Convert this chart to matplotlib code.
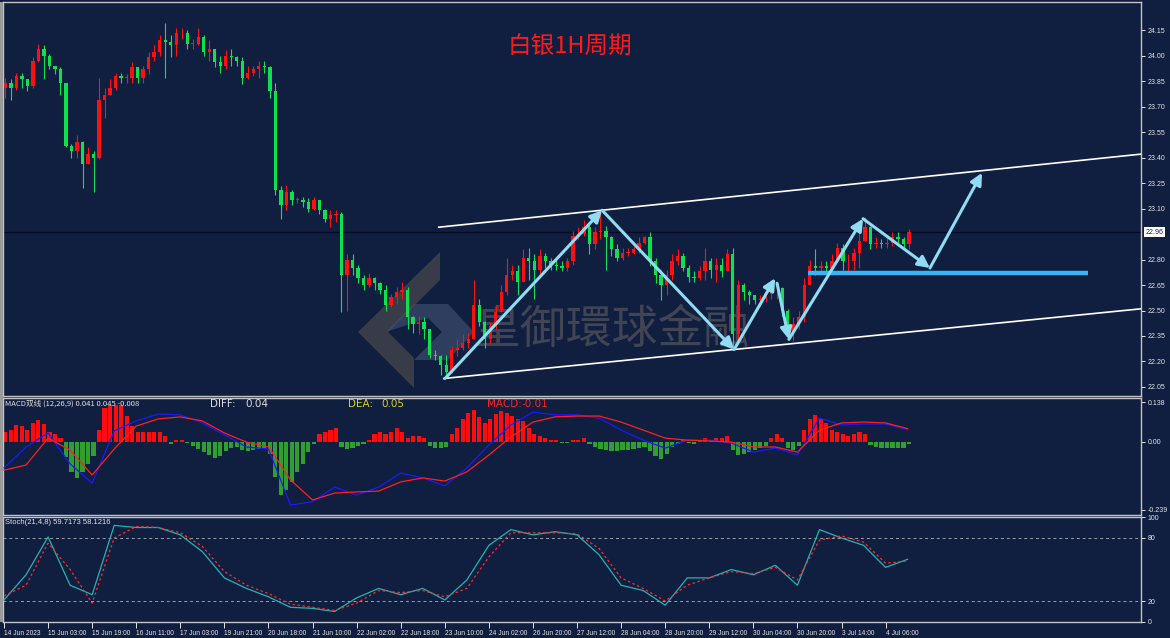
import numpy as np
import matplotlib
matplotlib.use("Agg")
import matplotlib.pyplot as plt
import matplotlib.transforms as mtransforms
from matplotlib.patches import Polygon

# ---------------- data (2-hour candles, silver 1H chart) ----------------
first_open = 23.81
closes = [23.84, 23.81, 23.88, 23.86, 23.82, 23.97, 24.04, 24.00, 23.94, 23.92,
          23.84, 23.47, 23.44, 23.49, 23.36, 23.42, 23.40, 23.74, 23.77, 23.81,
          23.88, 23.87, 23.87, 23.93, 23.87, 23.92, 23.99, 24.02, 24.09, 24.08,
          24.06, 24.13, 24.13, 24.07, 24.07, 24.11, 24.02, 24.04, 23.96, 23.94,
          24.00, 23.99, 23.97, 23.87, 23.90, 23.92, 23.94, 23.93, 23.79, 23.21,
          23.12, 23.20, 23.15, 23.15, 23.14, 23.10, 23.15, 23.09, 23.04, 23.06,
          23.07, 22.71, 22.80, 22.75, 22.69, 22.65, 22.69, 22.66, 22.62, 22.53,
          22.58, 22.61, 22.62, 22.46, 22.42, 22.43, 22.39, 22.24, 22.23, 22.18,
          22.14, 22.27, 22.28, 22.31, 22.33, 22.53, 22.43, 22.33, 22.41, 22.49,
          22.61, 22.71, 22.73, 22.67, 22.81, 22.79, 22.74, 22.82, 22.79, 22.77,
          22.76, 22.75, 22.79, 22.94, 22.95, 22.99, 22.89, 22.96, 22.97, 22.93,
          22.86, 22.81, 22.84, 22.84, 22.86, 22.90, 22.93, 22.79, 22.71, 22.65,
          22.71, 22.79, 22.82, 22.75, 22.70, 22.69, 22.73, 22.79, 22.74, 22.77,
          22.73, 22.83, 22.36, 22.65, 22.61, 22.59, 22.56, 22.57, 22.60, 22.63,
          22.63, 22.50, 22.37, 22.42, 22.46, 22.65, 22.76, 22.75, 22.76, 22.75,
          22.79, 22.87, 22.79, 22.79, 22.84, 22.91, 22.99, 22.89, 22.90, 22.89,
          22.90, 22.93, 22.92, 22.89, 22.96]
highs = [23.87, 23.86, 23.90, 23.90, 23.86, 23.99, 24.07, 24.06, 24.01, 23.94,
         23.93, 23.82, 23.48, 23.53, 23.50, 23.46, 23.44, 23.87, 23.81, 23.86,
         23.90, 23.90, 23.89, 23.96, 23.93, 23.94, 24.02, 24.06, 24.12, 24.19,
         24.12, 24.16, 24.16, 24.15, 24.10, 24.16, 24.12, 24.09, 24.04, 24.00,
         24.03, 24.04, 24.00, 23.99, 23.94, 23.94, 23.97, 23.97, 23.94, 23.84,
         23.23, 23.24, 23.21, 23.17, 23.17, 23.16, 23.17, 23.15, 23.10, 23.09,
         23.09, 23.08, 22.83, 22.83, 22.77, 22.71, 22.72, 22.70, 22.67, 22.65,
         22.60, 22.64, 22.67, 22.64, 22.47, 22.47, 22.46, 22.36, 22.27, 22.24,
         22.24, 22.29, 22.33, 22.36, 22.37, 22.68, 22.57, 22.44, 22.43, 22.53,
         22.65, 22.81, 22.77, 22.77, 22.86, 22.87, 22.83, 22.86, 22.84, 22.81,
         22.80, 22.79, 22.81, 22.97, 22.99, 23.03, 23.02, 22.99, 23.09, 23.00,
         22.94, 22.89, 22.87, 22.87, 22.88, 22.93, 22.94, 22.96, 22.81, 22.74,
         22.74, 22.83, 22.86, 22.84, 22.77, 22.73, 22.76, 22.87, 22.81, 22.81,
         22.81, 22.86, 22.87, 22.68, 22.66, 22.62, 22.59, 22.59, 22.62, 22.65,
         22.66, 22.64, 22.51, 22.46, 22.50, 22.69, 22.80, 22.86, 22.79, 22.79,
         22.83, 22.90, 22.89, 22.83, 22.87, 22.97, 23.05, 23.00, 22.93, 22.92,
         22.93, 22.96, 22.96, 22.93, 22.98]
lows = [23.75, 23.74, 23.80, 23.81, 23.79, 23.81, 23.96, 23.86, 23.92, 23.89,
        23.77, 23.46, 23.40, 23.40, 23.22, 23.36, 23.20, 23.39, 23.63, 23.77,
        23.80, 23.84, 23.84, 23.84, 23.84, 23.84, 23.89, 23.97, 24.00, 23.87,
        23.99, 24.00, 24.10, 24.04, 24.04, 24.06, 24.00, 23.97, 23.93, 23.90,
        23.92, 23.94, 23.94, 23.83, 23.86, 23.88, 23.87, 23.90, 23.75, 23.18,
        23.04, 23.09, 23.12, 23.13, 23.11, 23.08, 23.09, 23.07, 23.02, 22.99,
        23.02, 22.49, 22.50, 22.71, 22.66, 22.62, 22.64, 22.62, 22.60, 22.50,
        22.52, 22.54, 22.57, 22.39, 22.37, 22.36, 22.33, 22.22, 22.21, 22.12,
        22.10, 22.13, 22.23, 22.27, 22.28, 22.36, 22.41, 22.28, 22.30, 22.39,
        22.50, 22.59, 22.68, 22.59, 22.71, 22.68, 22.57, 22.71, 22.75, 22.74,
        22.74, 22.73, 22.73, 22.77, 22.92, 22.94, 22.83, 22.86, 22.92, 22.74,
        22.82, 22.79, 22.80, 22.82, 22.83, 22.84, 22.89, 22.76, 22.66, 22.56,
        22.59, 22.68, 22.77, 22.73, 22.67, 22.67, 22.68, 22.68, 22.69, 22.67,
        22.70, 22.73, 22.28, 22.30, 22.56, 22.54, 22.54, 22.54, 22.55, 22.57,
        22.57, 22.47, 22.33, 22.32, 22.39, 22.43, 22.65, 22.71, 22.73, 22.73,
        22.71, 22.79, 22.74, 22.73, 22.74, 22.75, 22.92, 22.86, 22.87, 22.87,
        22.87, 22.88, 22.89, 22.86, 22.86]

macd_hist = [0.032, 0.039, 0.056, 0.053, 0.042, 0.063, 0.074, 0.060, 0.035, 0.025,
             0.011, -0.053, -0.105, -0.126, -0.105, -0.077, -0.049, 0.042, 0.116, 0.126,
             0.126, 0.126, 0.088, 0.053, 0.035, 0.032, 0.032, 0.032, 0.032, 0.021,
             -0.007, 0.004, 0.004, -0.004, -0.014, -0.025, -0.035, -0.046, -0.056, -0.049,
             -0.032, -0.021, -0.018, -0.028, -0.032, -0.028, -0.025, -0.021, -0.042, -0.123,
             -0.186, -0.168, -0.140, -0.105, -0.077, -0.035, -0.007, 0.028, 0.032, 0.039,
             0.049, -0.018, -0.025, -0.021, -0.014, -0.007, 0.007, 0.025, 0.032, 0.028,
             0.035, 0.046, 0.035, 0.011, 0.018, 0.021, 0.011, -0.014, -0.021, -0.021,
             -0.018, 0.028, 0.049, 0.077, 0.098, 0.109, 0.084, 0.063, 0.077, 0.095,
             0.105, 0.098, 0.088, 0.077, 0.070, 0.049, 0.028, 0.018, 0.011, 0.007,
             0.004, -0.004, -0.004, 0.004, 0.007, 0.011, -0.007, -0.018, -0.025, -0.028,
             -0.032, -0.032, -0.028, -0.028, -0.025, -0.021, -0.018, -0.032, -0.049, -0.060,
             -0.042, -0.018, -0.007, 0.007, -0.004, -0.007, 0.004, 0.011, 0.007, 0.011,
             0.014, 0.018, -0.028, -0.046, -0.042, -0.035, -0.028, -0.021, -0.014, 0.014,
             0.028, 0.011, -0.021, -0.028, -0.014, 0.042, 0.077, 0.091, 0.077, 0.063,
             0.042, 0.035, 0.028, 0.021, 0.025, 0.032, 0.028, -0.011, -0.018, -0.021,
             -0.021, -0.021, -0.021, -0.021, -0.008]

# indicator lines sampled every 8 hours (hour 0 .. 328)
ind_hours = list(range(0, 329, 8))
macd_diff = [-0.092, -0.019, 0.030, -0.078, -0.145, 0.037, 0.072, 0.096, 0.093, 0.065,
             0.023, -0.019, -0.026, -0.222, -0.210, -0.159, -0.187, -0.159, -0.110, -0.127,
             -0.155, -0.092, -0.012, 0.058, 0.103, 0.093, 0.093, 0.082, 0.040, 0.005,
             -0.023, 0.005, 0.005, -0.005, -0.037, -0.023, -0.047, 0.082, 0.058, 0.061,
             0.061, 0.041]
macd_dea = [-0.100, -0.082, 0.012, -0.030, -0.117, -0.026, 0.054, 0.079, 0.086, 0.072,
            0.030, -0.002, -0.019, -0.134, -0.204, -0.180, -0.176, -0.173, -0.141, -0.127,
            -0.138, -0.106, -0.047, 0.016, 0.068, 0.086, 0.089, 0.089, 0.068, 0.040,
            0.012, 0.005, 0.002, -0.002, -0.019, -0.019, -0.037, 0.040, 0.065, 0.068,
            0.065, 0.045]
stoch_k = [21, 45, 81, 35, 26, 92, 90, 90, 83, 67, 42, 32, 24, 14, 13, 10, 23, 32, 26, 32,
           21, 40, 73, 88, 83, 86, 83, 64, 35, 30, 16, 42, 42, 50, 45, 54, 35, 88, 80, 73,
           52, 59.7]
stoch_d = [25, 35, 75, 50, 18, 80, 91, 90, 85, 72, 48, 35, 27, 17, 14, 11, 18, 30, 28, 30,
           24, 32, 62, 85, 85, 85, 84, 70, 42, 32, 20, 35, 42, 48, 46, 52, 40, 78, 82, 76,
           56, 58.1]

x_tick_hours = list(range(0, 321, 16))
x_tick_labels = ['14 Jun 2023', '15 Jun 03:00', '15 Jun 19:00', '16 Jun 11:00', '17 Jun 03:00',
                 '19 Jun 21:00', '20 Jun 18:00', '21 Jun 10:00', '22 Jun 02:00', '22 Jun 18:00',
                 '23 Jun 10:00', '24 Jun 02:00', '26 Jun 20:00', '27 Jun 12:00', '28 Jun 04:00',
                 '28 Jun 20:00', '29 Jun 12:00', '30 Jun 04:00', '30 Jun 20:00', '3 Jul 14:00',
                 '4 Jul 06:00']
price_ticks = [22.05, 22.20, 22.35, 22.50, 22.65, 22.80, 23.10, 23.25, 23.40,
               23.55, 23.70, 23.85, 24.00, 24.15]
last_price = 22.96

# drawn analysis objects (hour, price)
channel_upper = [(157.8, 22.99), (412.7, 23.42)]
channel_lower = [(159.6, 22.10), (412.7, 22.51)]
wave_arrows = [((160.1, 22.10), (217.1, 23.09)),
               ((217.1, 23.09), (265.0, 22.27)),
               ((265.0, 22.27), (279.9, 22.69)),
               ((280.6, 22.66), (284.9, 22.33)),
               ((284.9, 22.33), (311.8, 23.04)),
               ((311.8, 23.04), (336.1, 22.75)),
               ((336.1, 22.75), (355.0, 23.31))]
support_line = [(291.8, 22.72), (393.5, 22.72)]

# ---------------- figure ----------------
W, H = 1170, 638
BG = '#101e40'
FRAME = '#c4c4c4'
TXT = '#e4e4e4'
CJK = ['Noto Sans CJK SC', 'DejaVu Sans']
SMALL = 'Liberation Sans'

fig = plt.figure(figsize=(W / 100, H / 100), dpi=100, facecolor=BG)


def rect(top, bottom, left=3, right=1141):
    return [left / W, 1 - bottom / H, (right - left) / W, (bottom - top) / H]


def F(x, y):
    return (x / W, 1 - y / H)


ax1 = fig.add_axes(rect(2, 396))
ax2 = fig.add_axes(rect(398, 515), sharex=ax1)
ax3 = fig.add_axes(rect(517, 622), sharex=ax1)

for ax in (ax1, ax2, ax3):
    ax.set_facecolor(BG)
    for s in ax.spines.values():
        s.set_color(FRAME)
        s.set_linewidth(1.0)
    ax.yaxis.tick_right()
    ax.tick_params(axis='y', colors=TXT, labelsize=5, length=3, width=0.7, pad=2)

ax1.set_xlim(-0.36, 412.7)

# ---- candles ----
n = len(closes)
xs = np.arange(n) * 2 + 0.5
c = np.array(closes)
o = np.array([first_open] + closes[:-1])
hi = np.maximum(np.array(highs), np.maximum(o, c))
lo = np.minimum(np.array(lows), np.minimum(o, c))
up = c >= o
UPC, DNC = '#ff1010', '#10e050'
cols = np.where(up, UPC, DNC)
ax1.vlines(xs, lo, hi, colors=cols, lw=0.8, zorder=3)
body_h = np.maximum(np.abs(c - o), 0.004)
ax1.bar(xs, body_h, width=1.2, bottom=np.minimum(o, c), color=cols, lw=0, zorder=3)

ax1.set_ylim(21.997, 24.315)
ax1.set_yticks(price_ticks)
ax1.set_yticklabels([f'{v:.2f}' for v in price_ticks], family=SMALL)
ax1.tick_params(axis='x', bottom=False, labelbottom=False)

# current price line and label
ax1.axhline(last_price, color='#030a26', lw=0.9, zorder=1)
trans = mtransforms.blended_transform_factory(ax1.transAxes, ax1.transData)
ax1.text(1.004, last_price, f'{last_price:.2f}', transform=trans, fontsize=5,
         family=SMALL, color='#101e40', va='center', ha='left',
         bbox=dict(boxstyle='square,pad=0.2', fc='white', ec='none'), clip_on=False)

# watermark logo + text
logo_dark = Polygon([F(358, 332), F(440, 252), F(440, 280), F(388, 332), F(414, 358),
                     F(414, 388)], closed=True, transform=fig.transFigure,
                    fc='#5a5550', ec='none', alpha=0.55, zorder=0.5)
logo_light = Polygon([F(386, 332), F(414, 304), F(448, 304), F(474, 332), F(448, 360),
                      F(414, 360), F(442, 332), F(428, 318)], closed=True,
                     transform=fig.transFigure, fc='#4a5878', ec='none', alpha=0.55, zorder=0.5)
ax1.add_patch(logo_dark)
ax1.add_patch(logo_light)
ax1.text(*F(612, 330), '皇御環球金融', transform=fig.transFigure, fontsize=33,
         family=['Noto Sans CJK TC', 'DejaVu Sans'], color='#6a6663', alpha=0.55,
         ha='center', va='center', zorder=0.6)

# title
ax1.text(*F(570, 47), '白银1H周期', transform=fig.transFigure, fontsize=17,
         family=CJK, color='#ff1a1a', ha='center', va='center', zorder=6)

# channel lines
for line in (channel_upper, channel_lower):
    (xa, ya), (xb, yb) = line
    ax1.plot([xa, xb], [ya, yb], color='white', lw=1.2, zorder=4)

# support line
(sx0, sy0), (sx1, sy1) = support_line
ax1.plot([sx0, sx1], [sy0, sy1], color='#3ab4f2', lw=3.2, zorder=4, solid_capstyle='butt')

# wave arrows
for (xa, ya), (xb, yb) in wave_arrows:
    ax1.annotate('', xy=(xb, yb), xytext=(xa, ya),
                 arrowprops=dict(arrowstyle='-|>,head_length=0.7,head_width=0.35',
                                 color='#90dcf2', lw=2.2, shrinkA=0, shrinkB=0),
                 zorder=5)

# ---- MACD ----
mh = np.array(macd_hist)
ax2.bar(xs, mh, width=1.5, color=np.where(mh >= 0, '#ff0c0c', '#2ea02e'), lw=0, zorder=2)
ax2.plot(ind_hours, macd_diff, color='#1a1aff', lw=0.9, zorder=3)
ax2.plot(ind_hours, macd_dea, color='#ff2020', lw=0.9, zorder=3)
ax2.set_ylim(-0.2565, 0.152)
ax2.set_yticks([0.138, 0.0, -0.239])
ax2.set_yticklabels(['0.138', '0.00', '-0.239'], family=SMALL)
ax2.tick_params(axis='x', bottom=False, labelbottom=False)

fig.text(*F(5, 404), 'MACD双线 (12,26,9) 0.041 0.045 -0.008', fontsize=5.5,
         family=CJK, color=TXT, va='center', ha='left')
fig.text(*F(210, 404), 'DIFF:', fontsize=7.5, color='#dcdcdc', va='center')
fig.text(*F(245, 404), '0.04', fontsize=7.5, color='#dcdcdc', va='center')
fig.text(*F(348, 404), 'DEA:', fontsize=7.5, color='#d4d41e', va='center')
fig.text(*F(381, 404), '0.05', fontsize=7.5, color='#d4d41e', va='center')
fig.text(*F(487, 404), 'MACD:', fontsize=7.5, color='#ff2222', va='center')
fig.text(*F(522, 404), '-0.01', fontsize=7.5, color='#ff2222', va='center')

# ---- Stochastic ----
ax3.axhline(80, color='#9aa0aa', lw=0.7, ls=(0, (3, 3)), zorder=1)
ax3.axhline(20, color='#9aa0aa', lw=0.7, ls=(0, (3, 3)), zorder=1)
ax3.plot(ind_hours, stoch_k, color='#22b4b4', lw=0.9, zorder=3)
ax3.plot(ind_hours, stoch_d, color='#ff2a2a', lw=0.9, ls=(0, (2, 2)), zorder=3)
ax3.set_ylim(0, 100)
ax3.set_yticks([100, 80, 20, 0])
ax3.set_yticklabels(['100', '80', '20', '0'], family=SMALL)
fig.text(*F(5, 522), 'Stoch(21,4,8) 59.7173 58.1216', fontsize=5.5, color=TXT,
         va='center', ha='left', family=SMALL)

ax3.set_xticks(x_tick_hours)
ax3.set_xticklabels(x_tick_labels, family=SMALL)
ax3.tick_params(axis='x', colors=TXT, labelsize=4.8, length=4, width=0.7, pad=1.5)
for lbl in ax3.get_xticklabels():
    lbl.set_ha('left')

# left edge strip
fig.patches.append(matplotlib.patches.Rectangle((0, 1 - 622 / H), 2.5 / W, 620 / H,
                                                transform=fig.transFigure,
                                                fc='#9a9a9a', ec='none'))

fig.savefig('out.png', dpi=100, facecolor=BG)
